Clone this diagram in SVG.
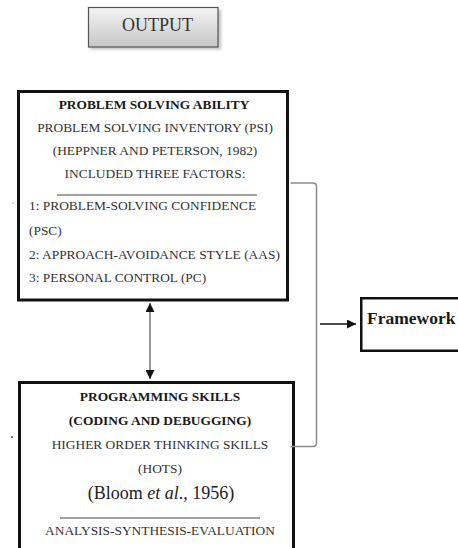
<svg xmlns="http://www.w3.org/2000/svg" width="458" height="548" viewBox="0 0 458 548">
  <defs>
    <linearGradient id="outGrad" x1="0" y1="0" x2="0" y2="1">
      <stop offset="0" stop-color="#f4f4f4"/>
      <stop offset="1" stop-color="#c6c6c6"/>
    </linearGradient>
    <filter id="blur1" x="-20%" y="-20%" width="140%" height="140%">
      <feGaussianBlur stdDeviation="1.5"/>
    </filter>
    <marker id="head" viewBox="0 0 10 10" refX="10" refY="5" markerWidth="9" markerHeight="9" markerUnits="userSpaceOnUse" orient="auto-start-reverse">
      <path d="M0,0 L10,5 L0,10 z" fill="#111"/>
    </marker>
    <style>
      text { font-family: "Liberation Serif", "Times New Roman", serif; }
      .reg { font-size: 13.4px; fill: #333; }
      .bold { font-size: 13.4px; font-weight: bold; fill: #1a1a1a; }
      .mid { text-anchor: middle; }
      .box { fill: #fff; stroke: #111; stroke-width: 3; }
      .sep { stroke: #444; stroke-width: 1; }
    </style>
  </defs>
  <rect width="458" height="548" fill="#fff"/>

  <g id="output">
    <rect x="90" y="9.5" width="131" height="40" fill="#999" opacity="0.6" filter="url(#blur1)"/>
    <rect x="88.5" y="7.5" width="129.5" height="39.5" fill="url(#outGrad)" stroke="#555" stroke-width="1.2"/>
    <text x="157.5" y="31" class="mid" style="font-size:18px;fill:#333">OUTPUT</text>
  </g>

  <g id="problem-solving">
    <rect x="18.5" y="91.5" width="269" height="208.5" class="box"/>
    <text x="154" y="109" class="bold mid">PROBLEM SOLVING ABILITY</text>
    <text x="155" y="132" class="reg mid">PROBLEM SOLVING INVENTORY (PSI)</text>
    <text x="155" y="155" class="reg mid">(HEPPNER AND PETERSON, 1982)</text>
    <text x="155" y="178" class="reg mid">INCLUDED THREE FACTORS:</text>
    <line x1="57" y1="195" x2="257" y2="195" class="sep"/>
    <text x="29" y="210" class="reg">1: PROBLEM-SOLVING CONFIDENCE</text>
    <text x="29" y="235" class="reg">(PSC)</text>
    <text x="29" y="259" class="reg">2: APPROACH-AVOIDANCE STYLE (AAS)</text>
    <text x="29" y="282" class="reg">3: PERSONAL CONTROL (PC)</text>
  </g>

  <g id="programming-skills">
    <path d="M19.5,550 V382.5 H293.5 V550" class="box"/>
    <text x="160" y="401" class="bold mid">PROGRAMMING SKILLS</text>
    <text x="160" y="425" class="bold mid">(CODING AND DEBUGGING)</text>
    <text x="160" y="448.5" class="reg mid">HIGHER ORDER THINKING SKILLS</text>
    <text x="160" y="472.5" class="reg mid">(HOTS)</text>
    <text x="161" y="498.5" class="mid" style="font-size:18px;fill:#222">(Bloom <tspan font-style="italic">et al</tspan>., 1956)</text>
    <line x1="60" y1="518" x2="260" y2="518" class="sep"/>
    <text x="160" y="535" class="reg mid">ANALYSIS-SYNTHESIS-EVALUATION</text>
  </g>

  <g id="framework">
    <rect x="361.25" y="298.25" width="120" height="52.5" fill="#fff" stroke="#111" stroke-width="2.5"/>
    <text x="367" y="324" style="font-size:17.5px;font-weight:bold;fill:#1a1a1a">Framework</text>
  </g>

  <g id="connectors">
    <line x1="150" y1="303" x2="150" y2="379" stroke="#555" stroke-width="1.2" marker-start="url(#head)" marker-end="url(#head)"/>
    <path d="M290.5,183 H313 Q316.5,183 316.5,186.5 V443 Q316.5,446.5 313,446.5 H290.5" fill="none" stroke="#8a8a8a" stroke-width="1.5"/>
    <line x1="320" y1="324" x2="356" y2="324" stroke="#111" stroke-width="1.5" marker-end="url(#head)"/>
  </g>

  <circle cx="13" cy="203" r="0.7" fill="#999"/>
  <circle cx="12" cy="437" r="0.9" fill="#444"/>
</svg>
